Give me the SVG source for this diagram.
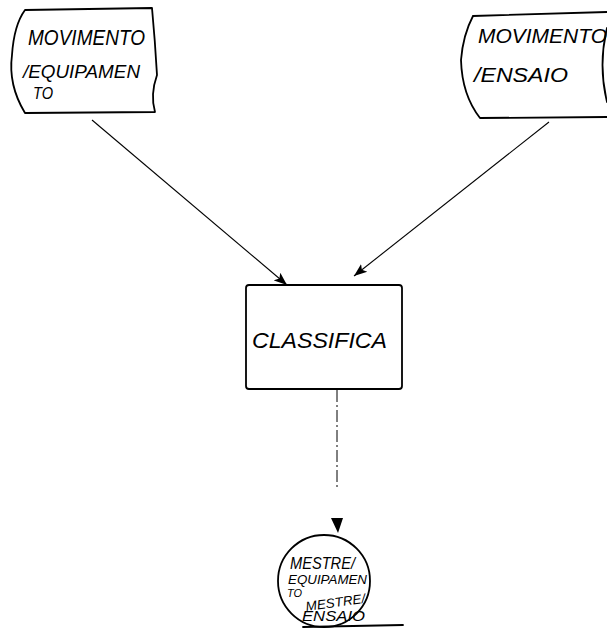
<svg xmlns="http://www.w3.org/2000/svg" width="607" height="638" viewBox="0 0 607 638">
<style>
.shape{fill:none;stroke:#000;stroke-width:1.8;stroke-linejoin:round;stroke-linecap:round}
.conn{fill:none;stroke:#000;stroke-width:1.1}
.dash{fill:none;stroke:#000;stroke-width:1;stroke-dasharray:12,3,2,3}
.hand{font-family:"Liberation Sans",Arial,sans-serif;font-style:italic;fill:#000;font-weight:normal}
</style>
<defs>
<marker id="ah" markerWidth="14" markerHeight="12" refX="13" refY="6" orient="auto" markerUnits="userSpaceOnUse">
<path d="M0,1 L13,6 L0,11 L3,6 Z" fill="#000"/>
</marker>
</defs>
<rect width="607" height="638" fill="#fff"/>
<g id="connectors">
<line class="conn" x1="92" y1="120" x2="287" y2="285" marker-end="url(#ah)"/>
<line class="conn" x1="549" y1="122" x2="354" y2="276" marker-end="url(#ah)"/>
<line class="dash" x1="337" y1="390" x2="337" y2="488"/>
<path d="M331,518 L343,518 L338,533 Z" fill="#000"/>
</g>
<g id="movimento-equipamento">
<path class="shape" d="M25,10 L152,8 Q155,40 157,75 Q150,95 155,112 L25,113 Q8,85 12,55 Q14,25 25,10 Z"/>
<text class="hand" x="28" y="45" font-size="22" textLength="117" lengthAdjust="spacingAndGlyphs">MOVIMENTO</text>
<text class="hand" x="23" y="78" font-size="19" textLength="117" lengthAdjust="spacingAndGlyphs">/EQUIPAMEN</text>
<text class="hand" x="33" y="99" font-size="16" textLength="20" lengthAdjust="spacingAndGlyphs">TO</text>
</g>
<g id="movimento-ensaio">
<path class="shape" d="M473,16 L607,12 M473,16 Q463,35 461,60 Q462,95 480,118 L607,117"/>
<path class="shape" d="M607,28 Q598,65 607,102"/>
<text class="hand" x="478" y="43" font-size="21" textLength="129" lengthAdjust="spacingAndGlyphs">MOVIMENTO</text>
<text class="hand" x="474" y="82" font-size="21" textLength="94" lengthAdjust="spacingAndGlyphs">/ENSAIO</text>
</g>
<g id="classifica">
<rect class="shape" x="246" y="285" width="156" height="104" rx="3"/>
<text class="hand" x="252" y="348" font-size="22" textLength="135" lengthAdjust="spacingAndGlyphs">CLASSIFICA</text>
</g>
<g id="mestre">
<circle class="shape" cx="324" cy="581" r="46"/>
<line class="shape" x1="303" y1="627" x2="403" y2="625"/>
<text class="hand" x="290" y="569" font-size="16" textLength="65" lengthAdjust="spacingAndGlyphs">MESTRE/</text>
<text class="hand" x="288" y="584" font-size="12" textLength="79" lengthAdjust="spacingAndGlyphs">EQUIPAMEN</text>
<text class="hand" x="287" y="597" font-size="11" textLength="15" lengthAdjust="spacingAndGlyphs">TO</text>
<text class="hand" x="305" y="607" font-size="13" textLength="60" lengthAdjust="spacingAndGlyphs" transform="rotate(-8 334 600)">MESTRE/</text>
<text class="hand" x="302" y="621" font-size="14" textLength="63" lengthAdjust="spacingAndGlyphs">ENSAIO</text>
</g>
</svg>
